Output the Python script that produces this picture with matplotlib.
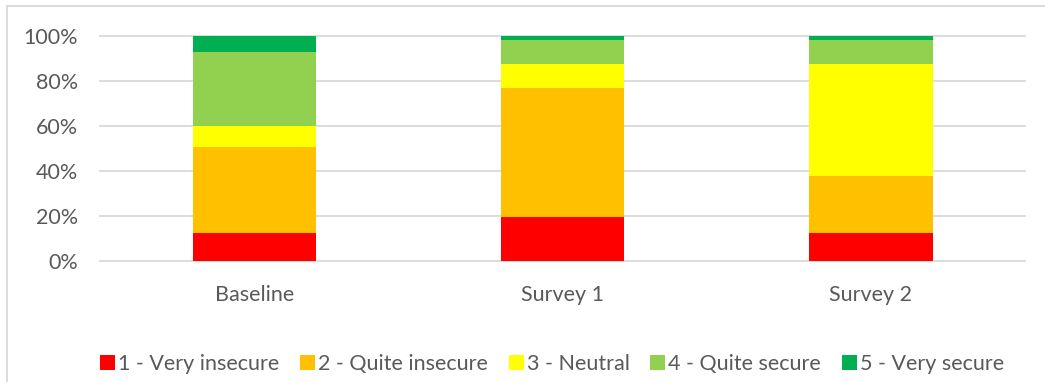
import matplotlib
matplotlib.use("Agg")
import matplotlib.pyplot as plt
from matplotlib.patches import Rectangle
from matplotlib.ticker import PercentFormatter

categories = ["Baseline", "Survey 1", "Survey 2"]
series_labels = ["1 - Very insecure", "2 - Quite insecure", "3 - Neutral",
                 "4 - Quite secure", "5 - Very secure"]
very_insecure = [12.6, 19.6, 12.6]
quite_insecure = [38.2, 57.1, 25.3]
neutral = [9.2, 10.9, 49.5]
quite_secure = [33.0, 10.8, 11.0]
very_secure = [7.0, 1.6, 1.6]
colors = ["#FF0000", "#FFC000", "#FFFF00", "#92D050", "#00B050"]

series = [very_insecure, quite_insecure, neutral, quite_secure, very_secure]

W, H = 1045, 382
fig = plt.figure(figsize=(W / 100, H / 100), dpi=100)
plt.rcParams["font.family"] = ["Lato", "DejaVu Sans"]
text_color = "#595959"
grid_color = "#D9D9D9"
fs = 15.5

# Chart frame (left and top edges visible)
fig.patches.append(Rectangle((7 / W, -0.2), 1.5, (H - 6.5) / H + 0.2,
                             transform=fig.transFigure, fill=False,
                             edgecolor=grid_color, linewidth=1.3))

ax = fig.add_axes([100 / W, 121 / H, 925 / W, 225 / H])
x = range(len(categories))
bottom = [0.0] * len(categories)
for vals, lab, col in zip(series, series_labels, colors):
    ax.bar(x, [v / 100 for v in vals], width=0.4, bottom=[b / 100 for b in bottom],
           color=col, label=lab, edgecolor="none", zorder=3)
    bottom = [b + v for b, v in zip(bottom, vals)]

ax.set_xlim(-0.5, len(categories) - 0.5)
ax.set_ylim(0, 1.0)
ax.set_yticks([0, 0.2, 0.4, 0.6, 0.8, 1.0])
ax.yaxis.set_major_formatter(PercentFormatter(1.0, decimals=0))
ax.set_xticks(list(x))
ax.set_xticklabels(categories)

for s in ax.spines.values():
    s.set_visible(False)
ax.yaxis.grid(True, color=grid_color, linewidth=1.3, zorder=0)
for gl in ax.get_ygridlines():
    gl.set_clip_on(False)
ax.tick_params(axis="both", length=0, labelsize=fs, labelcolor=text_color)
ax.tick_params(axis="y", pad=16)
ax.tick_params(axis="x", pad=17)

leg = fig.legend(loc="center", bbox_to_anchor=(552 / W, (H - 364) / H),
                 ncol=5, frameon=False, fontsize=fs, handlelength=0.7,
                 handleheight=0.7, handletextpad=0.15, columnspacing=0.95,
                 labelcolor=text_color)

fig.savefig("out.png", dpi=100, facecolor="white")
